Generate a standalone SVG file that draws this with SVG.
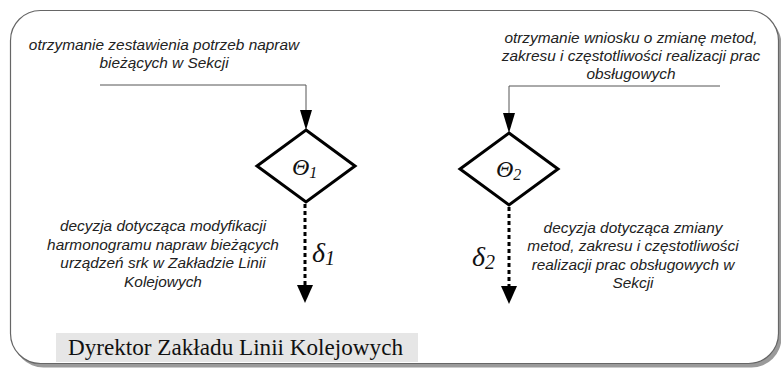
<svg xmlns="http://www.w3.org/2000/svg" width="781" height="370" viewBox="0 0 781 370">
  <style>
    .note { font-family: "Liberation Sans", Arial, sans-serif; font-style: italic; font-size: 15.4px; fill: #222; text-anchor: middle; }
    .sym { font-family: "Liberation Serif", "Times New Roman", serif; font-style: italic; fill: #111; }
    .flow { fill: none; stroke: #555; stroke-width: 1; }
    .dash { fill: none; stroke: #000; stroke-width: 3; stroke-dasharray: 4 3; }
    .decision { fill: #fff; stroke: #000; stroke-width: 3; stroke-linejoin: miter; }
  </style>
  <defs>
    <marker id="headThin" markerUnits="userSpaceOnUse" markerWidth="20" markerHeight="12" refX="0" refY="6" orient="auto">
      <path d="M0,0 L20,6 L0,12 Z" fill="#000"/>
    </marker>
    <marker id="headBold" markerUnits="userSpaceOnUse" markerWidth="18" markerHeight="16" refX="0" refY="8" orient="auto">
      <path d="M0,0 L18,8 L0,16 Z" fill="#000"/>
    </marker>
  </defs>

  <!-- frame with drop shadow -->
  <rect x="13.5" y="14.5" width="768" height="353" rx="30" fill="#9a9a9a"/>
  <rect x="10.5" y="10.5" width="768" height="353" rx="30" fill="#fff" stroke="#666" stroke-width="1.2"/>

  <!-- owner label -->
  <g id="owner">
    <rect x="56" y="333" width="362" height="29" fill="#e6e6e6"/>
    <text x="68" y="355" font-family="Liberation Serif, 'Times New Roman', serif" font-size="23" fill="#111" textLength="335" lengthAdjust="spacingAndGlyphs">Dyrektor Zakładu Linii Kolejowych</text>
  </g>

  <!-- input descriptions -->
  <g id="input1">
    <text class="note" x="164" y="50">otrzymanie zestawienia potrzeb napraw</text>
    <text class="note" x="164" y="68">bieżących w Sekcji</text>
  </g>
  <g id="input2">
    <text class="note" x="631" y="43">otrzymanie wniosku o zmianę metod,</text>
    <text class="note" x="631" y="61">zakresu i częstotliwości realizacji prac</text>
    <text class="note" x="631" y="79">obsługowych</text>
  </g>

  <!-- connectors -->
  <g id="connectors">
    <path class="flow" d="M100,85 H306 V110" marker-end="url(#headThin)"/>
    <path class="flow" d="M720,86 H509 V113" marker-end="url(#headThin)"/>
    <path class="dash" d="M305,204 V285" marker-end="url(#headBold)"/>
    <path class="dash" d="M509,207 V286" marker-end="url(#headBold)"/>
  </g>

  <!-- decision nodes -->
  <g id="decision1">
    <polygon class="decision" points="306,130 355,166 306,202 257,166"/>
    <text class="sym" x="292" y="175" font-size="24">Θ<tspan font-size="16" dy="3">1</tspan></text>
  </g>
  <g id="decision2">
    <polygon class="decision" points="509,133 558,169 509,205 460,169"/>
    <text class="sym" x="496" y="177" font-size="24">Θ<tspan font-size="16" dy="3">2</tspan></text>
  </g>

  <!-- outputs -->
  <g id="output1">
    <text class="sym" x="312" y="262" font-size="28">δ<tspan font-size="20" dy="3">1</tspan></text>
    <text class="note" x="163" y="231">decyzja dotycząca modyfikacji</text>
    <text class="note" x="163" y="250">harmonogramu napraw bieżących</text>
    <text class="note" x="163" y="268">urządzeń srk w Zakładzie Linii</text>
    <text class="note" x="163" y="287">Kolejowych</text>
  </g>
  <g id="output2">
    <text class="sym" x="472" y="266" font-size="28">δ<tspan font-size="20" dy="3">2</tspan></text>
    <text class="note" x="633" y="233">decyzja dotycząca zmiany</text>
    <text class="note" x="633" y="251">metod, zakresu i częstotliwości</text>
    <text class="note" x="633" y="270">realizacji prac obsługowych w</text>
    <text class="note" x="633" y="288">Sekcji</text>
  </g>
</svg>
